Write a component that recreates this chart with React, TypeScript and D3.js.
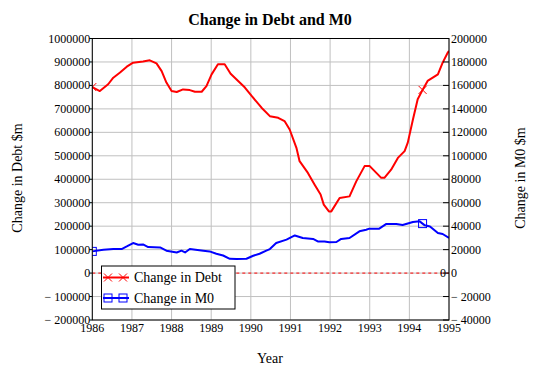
import React from "react";
import * as d3 from "d3";

const debtYears = [1986.0,1986.19,1986.4,1986.53,1986.7,1986.87,1987.03,1987.28,1987.45,1987.62,1987.75,1987.87,1988.0,1988.13,1988.29,1988.46,1988.59,1988.76,1988.88,1989.01,1989.17,1989.34,1989.49,1989.68,1989.85,1990.02,1990.27,1990.48,1990.69,1990.85,1990.98,1991.15,1991.23,1991.44,1991.61,1991.76,1991.84,1991.97,1992.03,1992.24,1992.49,1992.66,1992.87,1993.0,1993.29,1993.37,1993.54,1993.71,1993.88,1993.96,1994.09,1994.21,1994.34,1994.46,1994.59,1994.72,1994.84,1994.97,1995.0];
const debtValues = [793000,776000,805000,833000,855000,880000,897000,902000,907000,894000,861000,812000,776000,772000,783000,780000,773000,773000,797000,847000,890000,890000,850000,819000,791000,755000,705000,669000,662000,648000,612000,534000,477000,427000,377000,335000,292000,263000,263000,320000,327000,391000,456000,456000,406000,406000,441000,491000,520000,556000,655000,741000,783000,819000,833000,847000,897000,940000,947000];

const m0Years = [1986.0,1986.28,1986.53,1986.74,1986.87,1987.03,1987.16,1987.28,1987.41,1987.71,1987.87,1988.13,1988.25,1988.34,1988.46,1988.8,1988.96,1989.13,1989.3,1989.47,1989.64,1989.89,1990.06,1990.22,1990.39,1990.48,1990.64,1990.9,1991.11,1991.31,1991.57,1991.69,1991.86,1991.98,1992.16,1992.28,1992.49,1992.74,1992.91,1992.99,1993.24,1993.42,1993.67,1993.83,1994.09,1994.26,1994.39,1994.52,1994.72,1994.84,1995.0];
const m0Values = [18500,19900,20500,20500,22700,25600,24200,24400,22200,21900,19100,17600,19100,17600,20500,19100,18500,16500,15000,12200,12000,12200,14800,16500,19100,20500,25600,28500,32100,29900,29100,27000,27000,26200,26500,29100,29900,35600,37000,37900,37900,41900,41900,41000,43600,44100,40700,39800,34200,33300,29900];

const markerYears = [1986.0, 1994.3333];
const xTicks = [1986,1987,1988,1989,1990,1991,1992,1993,1994,1995];
const leftTicks = [-200000,-100000,0,100000,200000,300000,400000,500000,600000,700000,800000,900000,1000000];
const rightTicks = [-40000,-20000,0,20000,40000,60000,80000,100000,120000,140000,160000,180000,200000];

const W = 537, H = 373;
const L = 92.3, R = 449, T = 38.5, B = 320;
const font = "'Liberation Serif', 'Times New Roman', serif";

const fmt = (v: number) => (v < 0 ? "\u2212 " + Math.abs(v) : String(v));

export default function App() {
  const x = d3.scaleLinear().domain([1986, 1995]).range([L, R]);
  const yL = d3.scaleLinear().domain([-200000, 1000000]).range([B, T]);
  const yR = d3.scaleLinear().domain([-40000, 200000]).range([B, T]);

  const debtLine = d3.line<number>().x((_, i) => x(debtYears[i])).y((d) => yL(d))(debtValues) || "";
  const m0Line = d3.line<number>().x((_, i) => x(m0Years[i])).y((d) => yR(d))(m0Values) || "";

  const interp = (years: number[], vals: number[], t: number) => {
    for (let i = 0; i < years.length - 1; i++) {
      if (t >= years[i] && t <= years[i + 1]) {
        const f = (t - years[i]) / (years[i + 1] - years[i]);
        return vals[i] + f * (vals[i + 1] - vals[i]);
      }
    }
    return vals[vals.length - 1];
  };

  const xMark = (cx: number, cy: number, s: number, key: string) => (
    <path key={key} d={`M${cx - s},${cy - s}L${cx + s},${cy + s}M${cx - s},${cy + s}L${cx + s},${cy - s}`} stroke="#ff0000" strokeWidth={1} fill="none" />
  );
  const sqMark = (cx: number, cy: number, s: number, key: string) => (
    <rect key={key} x={cx - s} y={cy - s} width={2 * s} height={2 * s} stroke="#0000ff" strokeWidth={1} fill="none" />
  );

  return (
    <svg width={W} height={H} style={{ position: "absolute", left: 0, top: 0, background: "#fff" }} fontFamily={font}>
      <defs>
        <clipPath id="plot">
          <rect x={L} y={T} width={R - L} height={B - T} />
        </clipPath>
      </defs>
      <rect x={0} y={0} width={W} height={H} fill="#fff" />
      <text x={270} y={25} textAnchor="middle" fontSize={16} fontWeight="bold">Change in Debt and M0</text>
      {xTicks.map((t) => (
        <line key={"gx" + t} x1={x(t)} x2={x(t)} y1={T} y2={B} stroke="#c0c0c0" strokeWidth={1} />
      ))}
      {leftTicks.map((t) => (
        <line key={"gy" + t} x1={L} x2={R} y1={yL(t)} y2={yL(t)} stroke="#c0c0c0" strokeWidth={1} />
      ))}
      <line x1={L} x2={R} y1={yL(0)} y2={yL(0)} stroke="#ff0000" strokeWidth={1} strokeDasharray="3,3" />
      <text x={446} y={yL(0) + 4} textAnchor="end" fontSize={12}>0</text>
      <g clipPath="url(#plot)">
        <path d={debtLine} fill="none" stroke="#ff0000" strokeWidth={2} strokeLinejoin="round" />
        <path d={m0Line} fill="none" stroke="#0000ff" strokeWidth={2} strokeLinejoin="round" />
        {markerYears.map((t, i) => xMark(x(t), yL(interp(debtYears, debtValues, t)), 4, "dx" + i))}
        {markerYears.map((t, i) => sqMark(x(t), yR(interp(m0Years, m0Values, t)), 4, "ms" + i))}
      </g>
      <rect x={L} y={T} width={R - L} height={B - T} fill="none" stroke="#000" strokeWidth={1} />
      {leftTicks.map((t) => (
        <g key={"lt" + t}>
          <line x1={L - 3} x2={L} y1={yL(t)} y2={yL(t)} stroke="#000" />
          <text x={L - 2} y={yL(t) + 4} textAnchor="end" fontSize={12}>{fmt(t)}</text>
        </g>
      ))}
      {rightTicks.map((t) => (
        <g key={"rt" + t}>
          <line x1={R - 6} x2={R} y1={yR(t)} y2={yR(t)} stroke="#000" />
          <text x={R + 2} y={yR(t) + 4} textAnchor="start" fontSize={12}>{fmt(t)}</text>
        </g>
      ))}
      {xTicks.map((t) => (
        <text key={"xt" + t} x={x(t)} y={B + 12} textAnchor="middle" fontSize={12}>{t}</text>
      ))}
      <text transform={`translate(22,178) rotate(-90)`} textAnchor="middle" fontSize={14}>Change in Debt $m</text>
      <text transform={`translate(525,178) rotate(-90)`} textAnchor="middle" fontSize={14}>Change in M0 $m</text>
      <text x={270} y={363} textAnchor="middle" fontSize={14}>Year</text>
      <g>
        <rect x={101.5} y={266} width={133.5} height={43} fill="#fff" stroke="#000" strokeWidth={1} />
        <line x1={103} x2={129} y1={277.5} y2={277.5} stroke="#ff0000" strokeWidth={2} />
        {xMark(108, 277.5, 4, "lx1")}
        {xMark(123, 277.5, 4, "lx2")}
        <text x={134} y={282} fontSize={14}>Change in Debt</text>
        <line x1={103} x2={129} y1={298} y2={298} stroke="#0000ff" strokeWidth={2} />
        {sqMark(108, 298, 4, "ls1")}
        {sqMark(123, 298, 4, "ls2")}
        <text x={134} y={302.5} fontSize={14}>Change in M0</text>
      </g>
    </svg>
  );
}
